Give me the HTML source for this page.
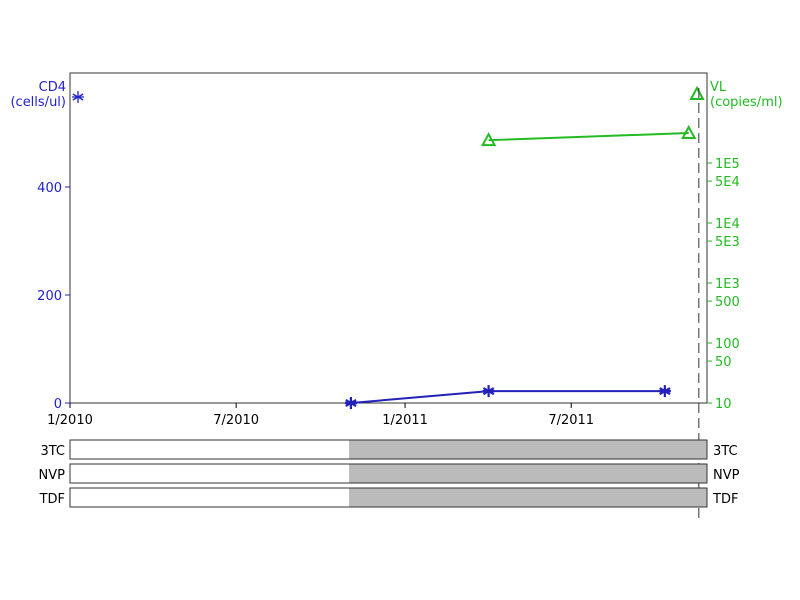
<!DOCTYPE html>
<html><head><meta charset="utf-8"><style>body{margin:0;background:#fff}svg{display:block}text{font-family:"DejaVu Sans","Liberation Sans",sans-serif;font-size:13px}</style></head>
<body>
<svg id="c" width="800" height="600"></svg>
<script>
const xTicks=["1/2010","7/2010","1/2011","7/2011"];
const xTickDays=[0,181,365,546];
const cd4Ticks=[0,200,400];
const vlTicks=[10,50,100,500,1000,5000,10000,50000,100000];
const vlTickLabels=["10","50","100","500","1E3","5E3","1E4","5E4","1E5"];
const cd4Days=[306,456,648];
const cd4Values=[0,22,22];
const vlDays=[456,674];
const vlValues=[240000,316000];
const drugs=["3TC","NVP","TDF"];
const drugStartDays=[304,304,304];
const markerDay=685;
const NS="http://www.w3.org/2000/svg",svg=document.getElementById('c');
function el(t,a,txt){const e=document.createElementNS(NS,t);for(const k in a)e.setAttribute(k,a[k]);if(txt!=null)e.textContent=txt;svg.appendChild(e);return e;}
const X0=70,X1=707,Y0=403,Y1=73;
const xs=d=>X0+d*0.918;
const yc=v=>Y0-v*0.54;
const yv=v=>Y0-(Math.log10(v)-1)*60;
let e=el('rect',{x:X0,y:Y1,width:X1-X0,height:Y0-Y1,fill:'none',stroke:'#333','stroke-width':1});

xTicks.forEach((t,i)=>{const x=xs(xTickDays[i]);
 e=el('line',{x1:x,y1:Y0,x2:x,y2:Y0+5,stroke:'#000'});
 e=el('text',{x:x,y:Y0+21,'text-anchor':'middle',fill:'#000'},t);});
cd4Ticks.forEach(v=>{const y=yc(v);
 e=el('line',{x1:X0-5,y1:y,x2:X0,y2:y,stroke:'#2222cc'});
 e=el('text',{x:X0-8,y:y+5,'text-anchor':'end',fill:'#2222cc'},v);});
vlTicks.forEach((v,i)=>{const y=yv(v);
 e=el('line',{x1:X1,y1:y,x2:X1+5,y2:y,stroke:'#22bb22'});
 e=el('text',{x:X1+8,y:y+5,fill:'#22bb22'},vlTickLabels[i]);});
e=el('text',{x:66,y:91,'text-anchor':'end',fill:'#2222cc'},'CD4');
e=el('text',{x:66,y:106,'text-anchor':'end',fill:'#2222cc'},'(cells/ul)');
e=el('text',{x:710,y:91,fill:'#22bb22'},'VL');
e=el('text',{x:710,y:106,fill:'#22bb22'},'(copies/ml)');
function star(x,y,c,w){const r=6;let p='';[0,60,120].forEach(a=>{const t=a*Math.PI/180;p+=`M${x-r*Math.sin(t)},${y-r*Math.cos(t)}L${x+r*Math.sin(t)},${y+r*Math.cos(t)}`;});p+=`M${x-r},${y}L${x+r},${y}`;return el('path',{d:p,stroke:c,'stroke-width':w,fill:'none'});}
function tri(x,y,c){return el('path',{d:`M${x},${y-6}L${x+6},${y+5}L${x-6},${y+5}Z`,stroke:c,'stroke-width':2,fill:'none'});}
e=star(78,97,'#2222cc',1.3);
e=tri(697,94,'#22bb22');
e=el('line',{x1:xs(markerDay),y1:88,x2:xs(markerDay),y2:522,stroke:'#333','stroke-dasharray':'10,5'});
e=el('polyline',{points:cd4Days.map((d,i)=>xs(d)+','+yc(cd4Values[i])).join(' '),fill:'none',stroke:'#2222bb','stroke-width':2});
cd4Days.forEach((d,i)=>{e=star(xs(d),yc(cd4Values[i]),'#2222bb',2.2);});
e=el('polyline',{points:vlDays.map((d,i)=>xs(d)+','+yv(vlValues[i])).join(' '),fill:'none',stroke:'#22bb22','stroke-width':2});
vlDays.forEach((d,i)=>{e=tri(xs(d),yv(vlValues[i]),'#22bb22');});
drugs.forEach((n,i)=>{const y=440+i*24;
 e=el('rect',{x:X0,y:y,width:X1-X0,height:19,fill:'#fff',stroke:'#333'});
 const s=xs(drugStartDays[i]);
 e=el('rect',{x:s,y:y+0.5,width:X1-0.5-s,height:18,fill:'#bbbbbb'});
 e=el('rect',{x:X0,y:y,width:X1-X0,height:19,fill:'none',stroke:'#333'});
 e=el('text',{x:X0-5,y:y+15,'text-anchor':'end',fill:'#000'},n);
 e=el('text',{x:X1+6,y:y+15,fill:'#000'},n);});
</script>
</body></html>
